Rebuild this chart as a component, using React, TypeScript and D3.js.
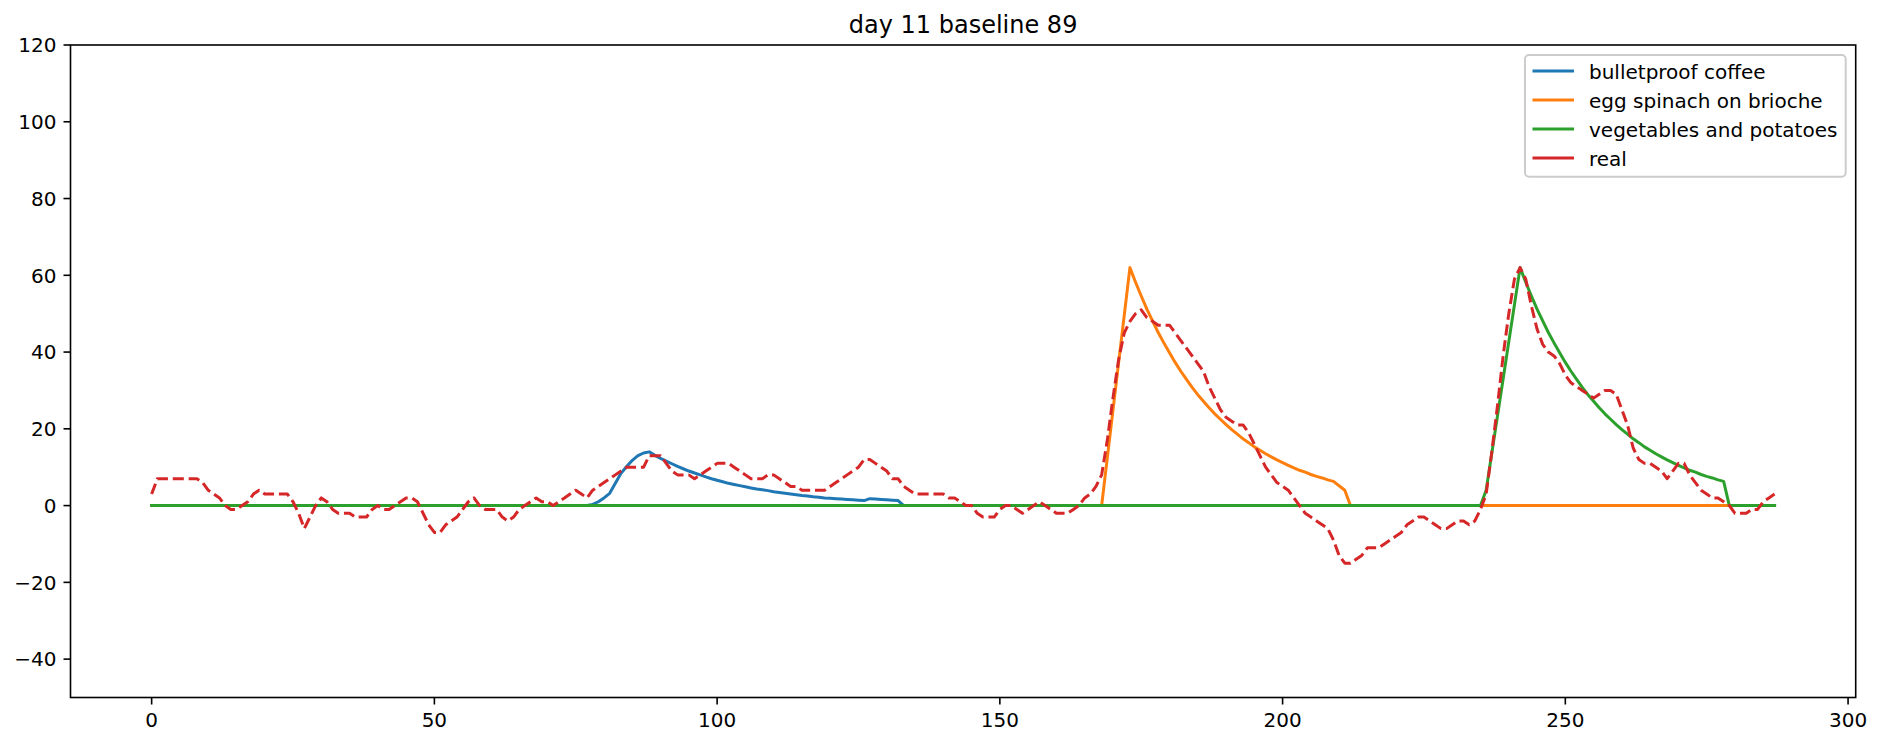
import React from 'react';
import * as d3 from 'd3';

const title = 'day 11 baseline 89';
const seriesNames = ['bulletproof coffee', 'egg spinach on brioche', 'vegetables and potatoes', 'real'];
const seriesColors = ['#1f77b4', '#ff7f0e', '#2ca02c', '#d62728'];
const xTicks = [0, 50, 100, 150, 200, 250, 300];
const yTicks = [-40, -20, 0, 20, 40, 60, 80, 100, 120];

// real (measured) glucose minus baseline, one value per 5-minute step (index 0..287)
const realValues = [
  3, 7, 7, 7, 7, 7, 7, 7, 7, 6,
  4, 3, 2, 0, -1, -1, 0, 1, 3, 4,
  3, 3, 3, 3, 3, 1, -2, -6, -3, 0,
  2, 1, -1, -2, -2, -2, -3, -3, -3, -1,
  0, -1, -1, 0, 1, 2, 2, 1, -2, -5,
  -7, -7, -5, -4, -3, -1, 1, 2, 0, -1,
  -1, -1, -3, -4, -3, -1, 0, 1, 2, 1,
  1, 0, 1, 2, 3, 4, 3, 2, 4, 5,
  6, 7, 8, 9, 10, 10, 10, 10, 13, 13,
  13, 11, 9, 8, 8, 8, 7, 8, 9, 10,
  11, 11, 11, 10, 9, 8, 7, 7, 7, 8,
  8, 7, 6, 5, 5, 4, 4, 4, 4, 4,
  5, 6, 7, 8, 9, 10, 12, 12, 11, 10,
  9, 7, 7, 5, 4, 3, 3, 3, 3, 3,
  3, 2, 2, 1, 0, 0, -2, -3, -3, -3,
  -1, 0, 0, -1, -2, -1, 0, 1, 0, -1,
  -2, -2, -2, -1, 0, 2, 3, 5, 8, 17,
  28, 38, 45, 48, 50, 51, 49, 48, 47, 47,
  47, 45, 43, 41, 39, 37, 35, 31, 28, 25,
  23, 22, 21, 21, 19, 16, 13, 10, 8, 6,
  5, 4, 2, 0, -2, -3, -4, -5, -6, -9,
  -13, -15, -15, -14, -13, -11, -11, -11, -10, -9,
  -8, -7, -5, -4, -3, -3, -4, -5, -6, -6,
  -5, -4, -4, -5, -4, -1, 3, 14, 26, 39,
  50, 59, 62, 59, 52, 46, 42, 40, 39, 37,
  34, 32, 31, 30, 29, 28, 29, 30, 30, 29,
  25, 21, 15, 12, 11, 11, 10, 9, 7, 9,
  11, 11, 8, 6, 4, 3, 2, 2, 1, 0,
  -2, -2, -2, -1, -1, 1, 2, 3
];

// model curves: vertices (step index, value)
const coffeeX = [0, 77, 78, 79, 80, 81, 82, 83, 84, 85, 86, 87, 88, 89, 90, 91, 92, 93, 94, 95, 96, 97, 98, 99,
  100, 101, 102, 103, 104, 105, 106, 107, 108, 109, 110, 111, 112, 113, 114, 115, 116, 117, 118, 119, 120,
  121, 122, 123, 124, 125, 126, 127, 128, 129, 130, 131, 132, 133, 287];
const coffeeY = [0, 0, 0.3, 1, 2, 3.2, 5.8, 8.4, 10.2, 11.8, 13, 13.7, 14, 13.1, 12.3, 11.6, 10.9, 10.2, 9.6, 9.0,
  8.5, 8.0, 7.5, 7.0, 6.6, 6.2, 5.8, 5.5, 5.2, 4.9, 4.6, 4.3, 4.1, 3.9, 3.6, 3.4, 3.2, 3.0, 2.8, 2.6, 2.5, 2.3,
  2.2, 2.0, 1.9, 1.8, 1.7, 1.6, 1.5, 1.4, 1.3, 1.8, 1.7, 1.6, 1.5, 1.4, 1.3, 0, 0];

const eggX = [0, 168, 173, 174, 175, 176, 177, 178, 179, 180, 181, 182, 183, 184, 185, 186, 187, 188, 189, 190,
  191, 192, 193, 194, 195, 196, 197, 198, 199, 200, 201, 202, 203, 204, 205, 206, 207, 208, 209, 211, 212, 287];
const eggY = [0, 0, 62, 58.2, 54.6, 51.2, 48.1, 45.1, 42.4, 39.8, 37.3, 35.0, 32.9, 30.8, 28.9, 27.2, 25.5, 23.9,
  22.5, 21.1, 19.8, 18.6, 17.4, 16.4, 15.3, 14.4, 13.5, 12.7, 11.9, 11.2, 10.5, 9.8, 9.2, 8.7, 8.1, 7.6, 7.2,
  6.7, 6.3, 4, 0, 0];

const vegX = [0, 235, 236, 242, 243, 244, 245, 246, 247, 248, 249, 250, 251, 252, 253, 254, 255, 256, 257, 258,
  259, 260, 261, 262, 263, 264, 265, 266, 267, 268, 269, 270, 271, 272, 273, 274, 275, 276, 277, 278, 279, 287];
const vegY = [0, 0, 4, 62, 58.2, 54.6, 51.2, 48.1, 45.1, 42.4, 39.8, 37.3, 35.0, 32.9, 30.8, 28.9, 27.2, 25.5,
  23.9, 22.5, 21.1, 19.8, 18.6, 17.4, 16.4, 15.3, 14.4, 13.5, 12.7, 11.9, 11.2, 10.5, 9.8, 9.2, 8.7, 8.1, 7.6,
  7.2, 6.7, 6.3, 0, 0];

const W = 1882;
const H = 745;
const L = 70.5, R = 1855.7, T = 45, B = 697.5;
const FONT = "'DejaVu Sans', sans-serif";
const FS = 20;
const TICK = 7;

export default function App() {
  const x = d3.scaleLinear().domain([-14.35, 301.35]).range([L, R]);
  const y = d3.scaleLinear().domain([-50, 120]).range([B, T]);
  const line = d3.line<[number, number]>().x(d => x(d[0])).y(d => y(d[1]));

  const zip = (xs: number[], ys: number[]) => xs.map((v, i) => [v, ys[i]] as [number, number]);
  const models = [zip(coffeeX, coffeeY), zip(eggX, eggY), zip(vegX, vegY)];
  const real = realValues.map((v, i) => [i, v] as [number, number]);

  const legendX = 1525, legendY = 55, legendW = 320.7, legendH = 121.7;
  const rowY = [71, 100, 129, 158];

  return (
    <svg width={W} height={H} style={{ position: 'absolute', left: 0, top: 0, background: '#fff' }}
      fontFamily={FONT}>
      <rect x={0} y={0} width={W} height={H} fill="#fff" />
      {models.map((pts, k) => (
        <path key={k} d={line(pts) || ''} fill="none" stroke={seriesColors[k]} strokeWidth={3}
          strokeLinejoin="round" strokeLinecap="square" />
      ))}
      <path d={line(real) || ''} fill="none" stroke={seriesColors[3]} strokeWidth={3}
        strokeDasharray="11.1 4.8" strokeLinejoin="round" />
      <rect x={L} y={T} width={R - L} height={B - T} fill="none" stroke="#000" strokeWidth={1.6} />
      {xTicks.map(t => (
        <g key={'x' + t}>
          <line x1={x(t)} x2={x(t)} y1={B} y2={B + TICK} stroke="#000" strokeWidth={1.6} />
          <text x={x(t)} y={726.5} fontSize={FS} textAnchor="middle" fill="#000">{t}</text>
        </g>
      ))}
      {yTicks.map(t => (
        <g key={'y' + t}>
          <line x1={L - TICK} x2={L} y1={y(t)} y2={y(t)} stroke="#000" strokeWidth={1.6} />
          <text x={L - 2 * TICK} y={y(t) + 7.3} fontSize={FS} textAnchor="end" fill="#000">{t < 0 ? '\u2212' + Math.abs(t) : t}</text>
        </g>
      ))}
      <text x={(L + R) / 2} y={32.5} fontSize={24} textAnchor="middle" fill="#000">{title}</text>
      <rect x={legendX} y={legendY} width={legendW} height={legendH} rx={4} ry={4}
        fill="#fff" fillOpacity={0.8} stroke="#cccccc" strokeWidth={2} />
      {seriesNames.map((name, k) => (
        <g key={name}>
          <line x1={1534} x2={1572.5} y1={rowY[k]} y2={rowY[k]} stroke={seriesColors[k]} strokeWidth={3}
            strokeLinecap="square" />
          <text x={1589} y={rowY[k] + 7.5} fontSize={FS} fill="#000">{name}</text>
        </g>
      ))}
    </svg>
  );
}
